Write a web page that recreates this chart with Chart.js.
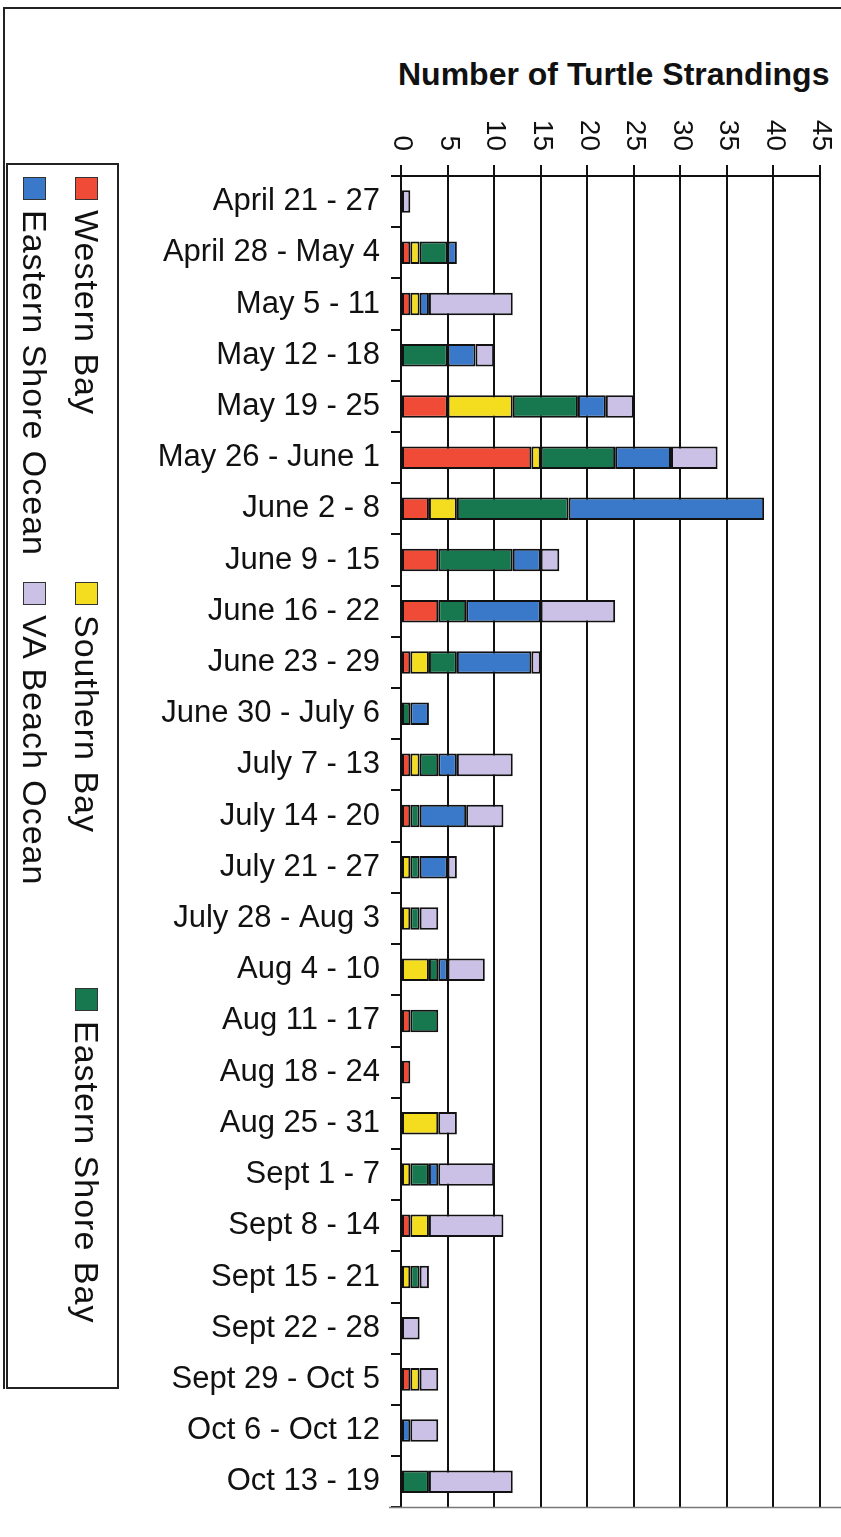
<!DOCTYPE html>
<html lang="en">
<head>
  <meta charset="UTF-8" />
  <title>Number of Turtle Strandings</title>
  <script src="https://cdn.jsdelivr.net/npm/chart.js"></script>
  <style>
    body {
      margin: 0;
      background: #fff;
      font-family: 'Liberation Sans', Arial, sans-serif;
      color: #111;
    }

    .page {
      position: relative;
      width: 841px;
      height: 1537px;
      overflow: hidden;
    }

    .frame {
      position: absolute;
      left: 3px;
      top: 7px;
      width: 845px;
      height: 1380px;
      border-top: 2px solid #222;
      border-left: 2px solid #222;
    }

    .title {
      position: absolute;
      left: 398px;
      top: 58px;
      font-size: 32px;
      line-height: 32px;
      font-weight: bold;
      white-space: nowrap;
    }

    .legend-box {
      position: absolute;
      left: 6px;
      top: 163px;
      width: 109px;
      height: 1222px;
      border: 2px solid #222;
    }

    .legend-item {
      position: absolute;
      display: flex;
      align-items: center;
      height: 36px;
      font-size: 34px;
      line-height: 36px;
      white-space: nowrap;
      transform-origin: 0 0;
      transform: rotate(90deg);
    }

    .legend-item .swatch {
      width: 21px;
      height: 21px;
      border: 1.5px solid #333;
      margin-right: 10px;
    }

    .legend-item .name {
      letter-spacing: 1px;
    }

    canvas {
      position: absolute;
      left: 0;
      top: 0;
    }
  </style>
</head>
<body>
  <div class="page">
    <div class="frame"></div>
    <div class="title">Number of Turtle Strandings</div>
    <canvas id="chart" width="841" height="1537"></canvas>
    <div class="legend-box"></div>
    <div id="legend"></div>
  </div>

  <script>
    const weeks = [
      'April 21 - 27', 'April 28 - May 4', 'May 5 - 11', 'May 12 - 18', 'May 19 - 25',
      'May 26 - June 1', 'June 2 - 8', 'June 9 - 15', 'June 16 - 22', 'June 23 - 29',
      'June 30 - July 6', 'July 7 - 13', 'July 14 - 20', 'July 21 - 27', 'July 28 - Aug 3',
      'Aug 4 - 10', 'Aug 11 - 17', 'Aug 18 - 24', 'Aug 25 - 31', 'Sept 1 - 7',
      'Sept 8 - 14', 'Sept 15 - 21', 'Sept 22 - 28', 'Sept 29 - Oct 5', 'Oct 6 - Oct 12',
      'Oct 13 - 19'
    ];

    const westernBay        = [0, 1, 1, 0, 5, 14, 3, 4, 4, 1, 0, 1, 1, 0, 0, 0, 1, 1, 0, 0, 1, 0, 0, 1, 0, 0];
    const southernBay       = [0, 1, 1, 0, 7, 1, 3, 0, 0, 2, 0, 1, 0, 1, 1, 3, 0, 0, 4, 1, 2, 1, 0, 1, 0, 0];
    const easternShoreBay   = [0, 3, 0, 5, 7, 8, 12, 8, 3, 3, 1, 2, 1, 1, 1, 1, 3, 0, 0, 2, 0, 1, 0, 0, 0, 3];
    const easternShoreOcean = [0, 1, 1, 3, 3, 6, 21, 3, 8, 8, 2, 2, 5, 3, 0, 1, 0, 0, 0, 1, 0, 0, 0, 0, 1, 0];
    const vaBeachOcean      = [1, 0, 9, 2, 3, 5, 0, 2, 8, 1, 0, 6, 4, 1, 2, 4, 0, 0, 2, 6, 8, 1, 2, 2, 3, 9];

    const xTickLabels = [0, 5, 10, 15, 20, 25, 30, 35, 40, 45];

    const series = [
      { label: 'Western Bay', data: westernBay, color: '#ef4b37' },
      { label: 'Southern Bay', data: southernBay, color: '#f4dc1f' },
      { label: 'Eastern Shore Bay', data: easternShoreBay, color: '#17774f' },
      { label: 'Eastern Shore Ocean', data: easternShoreOcean, color: '#3a79c9' },
      { label: 'VA Beach Ocean', data: vaBeachOcean, color: '#cbc1e6' }
    ];

    // legend is rotated, two columns like the original
    const legendSpots = {
      'Western Bay': [105, 177],
      'Southern Bay': [105, 582],
      'Eastern Shore Bay': [105, 988],
      'Eastern Shore Ocean': [53, 177],
      'VA Beach Ocean': [53, 582]
    };

    const legend = document.getElementById('legend');
    series.forEach(s => {
      const item = document.createElement('div');
      item.className = 'legend-item';
      item.style.left = legendSpots[s.label][0] + 'px';
      item.style.top = legendSpots[s.label][1] + 'px';
      item.innerHTML = `<span class="swatch" style="background:${s.color}"></span><span class="name">${s.label}</span>`;
      legend.appendChild(item);
    });

    const rotatedTicks = {
      id: 'rotatedTicks',
      afterDraw(chart) {
        const ctx = chart.ctx;
        const xs = chart.scales.x;
        ctx.save();
        ctx.fillStyle = '#111';
        ctx.font = '28px "Liberation Sans", Arial, sans-serif';
        ctx.textAlign = 'right';
        ctx.textBaseline = 'middle';
        xTickLabels.forEach(v => {
          const x = xs.getPixelForValue(v);
          ctx.save();
          ctx.translate(x + 1, 151);
          ctx.rotate(Math.PI / 2);
          ctx.fillText(String(v), 0, 0);
          ctx.restore();
        });
        // thin outer line under the last week
        const a = chart.chartArea;
        ctx.strokeStyle = '#777';
        ctx.lineWidth = 1.5;
        ctx.beginPath();
        ctx.moveTo(a.left - 12, a.bottom);
        ctx.lineTo(chart.width, a.bottom);
        ctx.stroke();
        ctx.restore();
      }
    };

    new Chart(document.getElementById('chart'), {
      type: 'bar',
      data: {
        labels: weeks,
        datasets: series.map(s => ({
          label: s.label,
          data: s.data,
          backgroundColor: s.color,
          borderColor: '#111',
          borderWidth: 2,
          borderSkipped: false,
          categoryPercentage: 1,
          barPercentage: 0.44
        }))
      },
      options: {
        indexAxis: 'y',
        responsive: false,
        animation: false,
        devicePixelRatio: 1,
        layout: { padding: { top: 0, bottom: 15, left: 0, right: 21 } },
        plugins: {
          legend: { display: false },
          title: { display: false },
          tooltip: { enabled: false }
        },
        scales: {
          x: {
            position: 'top',
            stacked: true,
            min: 0,
            max: 45,
            ticks: { stepSize: 5, display: false },
            grid: { color: '#111', lineWidth: 2, tickLength: 11, drawTicks: true },
            border: { display: true, color: '#111', width: 2 },
            afterFit: s => { s.height = 176; }
          },
          y: {
            stacked: true,
            grid: { drawOnChartArea: false, drawTicks: true, tickLength: 10, color: '#111', lineWidth: 2, offset: true },
            border: { display: true, color: '#111', width: 2 },
            ticks: {
              color: '#111',
              padding: 11,
              font: { family: '"Liberation Sans", Arial, sans-serif', size: 31 }
            },
            afterFit: s => { s.width = 401; }
          }
        }
      },
      plugins: [rotatedTicks]
    });
  </script>
</body>
</html>
